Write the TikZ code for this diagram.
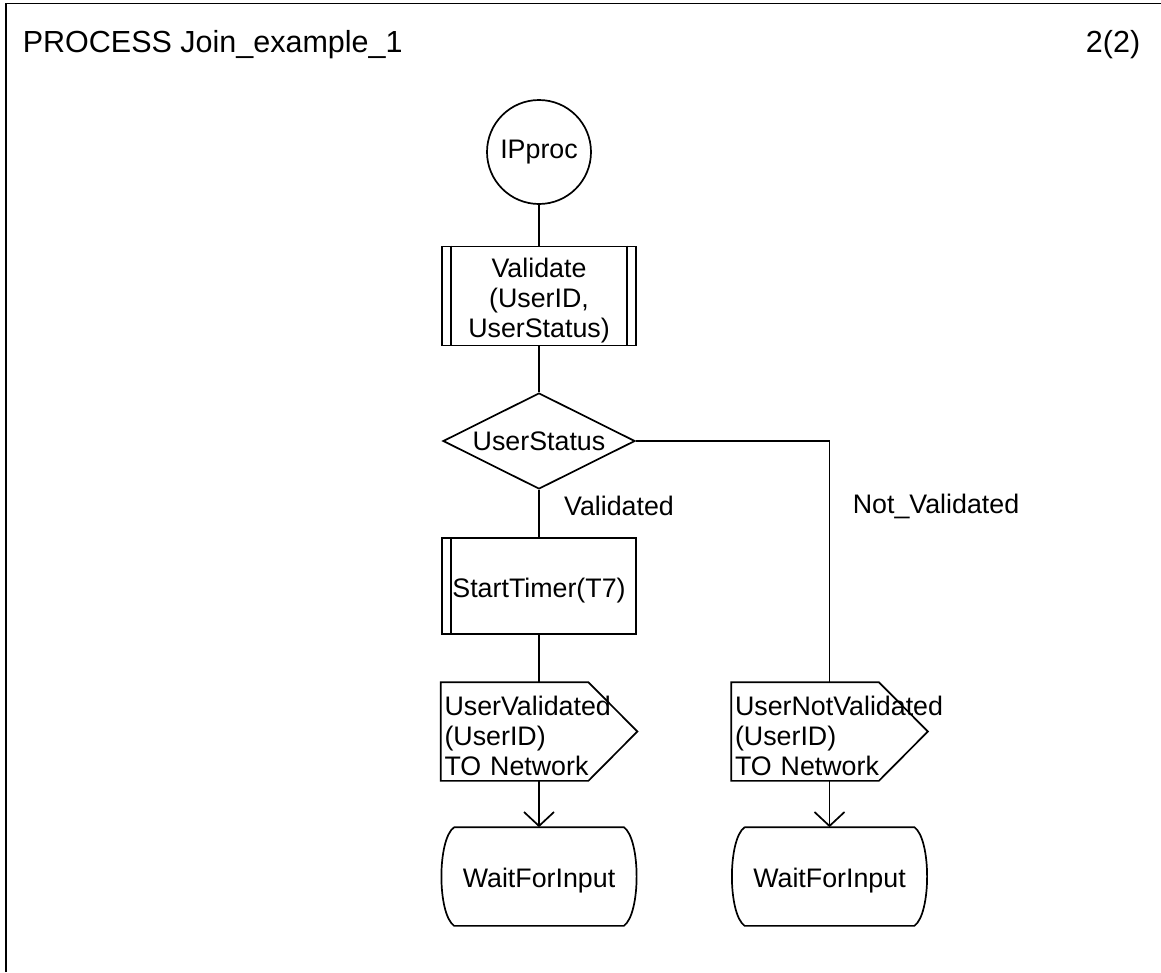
\documentclass[tikz,border=0pt]{standalone}
\usepackage{fontspec}
\setmainfont{Liberation Sans}
\usetikzlibrary{shapes.geometric,arrows.meta}
\begin{document}
\begin{tikzpicture}[x=1pt,y=-1pt,
  line width=1.7pt,
  every node/.style={font=\fontsize{26.8}{30}\selectfont, inner sep=0pt},
  every label/.style={font=\fontsize{26.8}{30}\selectfont, inner sep=0pt},
  titlefont/.style={font=\fontsize{30.5}{34}\selectfont},
  procbox/.style={draw, rectangle, minimum width=194pt},
  sigbox/.style={rectangle, minimum width=195pt, minimum height=97pt},
  statebox/.style={rectangle, minimum width=192pt, minimum height=97pt},
  flowarrow/.style={-{Straight Barb[length=14pt,width=30pt]}}]
\useasboundingbox (0,0) rectangle (1161,972);
% frame
\draw (6,972) -- (6,3.5) -- (1161,3.5);
% heading
\node[titlefont, anchor=base west] (title) at (22,52) {PROCESS Join\_example\_1};
\node[titlefont, anchor=base east] (page) at (1141,52) {2(2)};
% start
\node[draw, circle, minimum size=104pt] (ip) at (539,152) {IPproc};
% procedure call
\node[procbox, minimum height=99pt,
  label={[align=center, yshift=-5pt]center:{Validate\\(UserID,\\UserStatus)}}] (val) at (539,296) {};
\draw ([xshift=10pt]val.north west) -- ([xshift=10pt]val.south west);
\draw ([xshift=-10pt]val.north east) -- ([xshift=-10pt]val.south east);
% decision
\node[draw, diamond, aspect=2, minimum width=192pt, minimum height=96pt] (dec) at (539,441) {UserStatus};
% macro call
\node[procbox, minimum height=96pt,
  label={[yshift=-5pt]center:StartTimer(T7)}] (timer) at (539,586) {};
\draw ([xshift=10pt]timer.north west) -- ([xshift=10pt]timer.south west);
% outputs
\node[sigbox, label={[text width=189pt, align=left, yshift=-4pt]center:{UserValidated\\(UserID)\\TO Network}}]
  (sig1) at (539,731.5) {};
\draw (sig1.north west) -- ([xshift=-49pt]sig1.north east) -- (sig1.east)
  -- ([xshift=-49pt]sig1.south east) -- (sig1.south west) -- cycle;
\node[sigbox, label={[text width=189pt, align=left, yshift=-4pt]center:{UserNotValidated\\(UserID)\\TO Network}}]
  (sig2) at (829.5,731.5) {};
\draw (sig2.north west) -- ([xshift=-49pt]sig2.north east) -- (sig2.east)
  -- ([xshift=-49pt]sig2.south east) -- (sig2.south west) -- cycle;
% next states
\node[statebox, label={[yshift=-4pt]center:WaitForInput}] (st1) at (539,876.5) {};
\draw ([xshift=12pt]st1.north west) -- ([xshift=-12pt]st1.north east)
  .. controls +(17,12) and +(17,-12) .. ([xshift=-12pt]st1.south east)
  -- ([xshift=12pt]st1.south west)
  .. controls +(-17,-12) and +(-17,12) .. ([xshift=12pt]st1.north west);
\node[statebox, label={[yshift=-4pt]center:WaitForInput}] (st2) at (829.5,876.5) {};
\draw ([xshift=12pt]st2.north west) -- ([xshift=-12pt]st2.north east)
  .. controls +(17,12) and +(17,-12) .. ([xshift=-12pt]st2.south east)
  -- ([xshift=12pt]st2.south west)
  .. controls +(-17,-12) and +(-17,12) .. ([xshift=12pt]st2.north west);
% branch labels
\node (lv) at (619,506) {Validated};
\node (lnv) at (936,506) {Not\_Validated};
% flow lines
\draw (ip.south) -- (val.north);
\draw (val.south) -- (dec.north);
\draw (dec.south) -- (timer.north);
\draw (timer.south) -- (sig1.north);
\draw[flowarrow] (sig1.south) -- (st1.north);
\draw (dec.east) -| (sig2.north);
\draw[flowarrow] (sig2.south) -- (st2.north);
\end{tikzpicture}
\end{document}
